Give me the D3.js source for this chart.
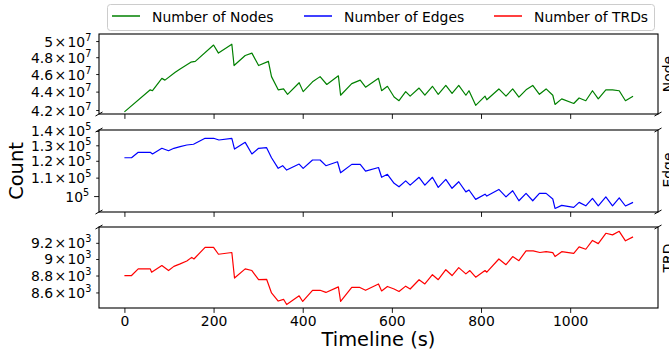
<!DOCTYPE html>
<html><head><meta charset="utf-8">
<script src="https://cdn.jsdelivr.net/npm/d3@7"></script>
<style>body{margin:0;background:#fff}svg{display:block;font-family:"DejaVu Sans",sans-serif}</style>
</head><body><svg id="c" width="669" height="350"></svg>
<script>
// ---------------- data ----------------
const nodesTime = [0,58,63,84,91,114,125,149,159,200,211,241,246,271,286,301,323,330,345,357,366,392,401,422,439,454,480,485,510,529,541,570,577,590,605,616,631,641,661,674,691,704,721,735,750,766,773,788,809,813,840,856,871,885,901,916,931,946,961,966,981,1008,1020,1035,1050,1063,1080,1095,1110,1124,1141];
const nodesCount = [4.18e7,4.42e7,4.41e7,4.55e7,4.53e7,4.62e7,4.66e7,4.74e7,4.75e7,4.95e7,4.85e7,4.96e7,4.70e7,4.82e7,4.85e7,4.70e7,4.75e7,4.57e7,4.42e7,4.43e7,4.37e7,4.50e7,4.40e7,4.51e7,4.57e7,4.48e7,4.58e7,4.36e7,4.49e7,4.53e7,4.45e7,4.55e7,4.41e7,4.46e7,4.34e7,4.30e7,4.40e7,4.35e7,4.44e7,4.36e7,4.46e7,4.37e7,4.47e7,4.38e7,4.47e7,4.36e7,4.41e7,4.25e7,4.35e7,4.31e7,4.43e7,4.35e7,4.43e7,4.34e7,4.42e7,4.47e7,4.37e7,4.43e7,4.36e7,4.26e7,4.32e7,4.27e7,4.33e7,4.30e7,4.41e7,4.32e7,4.42e7,4.42e7,4.41e7,4.30e7,4.35e7];

const edgesTime = [0,16,31,58,63,84,99,111,125,140,155,181,200,212,241,247,271,286,301,319,330,345,355,364,392,401,422,439,452,478,485,510,529,541,570,577,590,605,616,631,641,661,674,691,704,721,735,750,766,773,788,809,813,840,856,871,885,901,916,931,946,961,966,981,1008,1020,1035,1050,1063,1080,1095,1110,1124,1141];
const edgesCount = [1.219e5,1.219e5,1.254e5,1.254e5,1.243e5,1.280e5,1.264e5,1.280e5,1.291e5,1.302e5,1.307e5,1.348e5,1.348e5,1.336e5,1.348e5,1.275e5,1.320e5,1.243e5,1.280e5,1.284e5,1.219e5,1.154e5,1.170e5,1.144e5,1.180e5,1.154e5,1.205e5,1.205e5,1.170e5,1.194e5,1.128e5,1.178e5,1.178e5,1.138e5,1.159e5,1.102e5,1.119e5,1.068e5,1.049e5,1.082e5,1.058e5,1.102e5,1.058e5,1.102e5,1.046e5,1.090e5,1.041e5,1.077e5,1.022e5,1.032e5,0.983e5,1.010e5,1.000e5,1.035e5,0.996e5,1.028e5,0.976e5,1.014e5,0.976e5,1.014e5,1.014e5,0.985e5,0.938e5,0.953e5,0.943e5,0.968e5,0.951e5,0.988e5,0.951e5,0.996e5,0.951e5,0.991e5,0.950e5,0.968e5];

const trdsTime = [0,16,31,58,61,84,99,111,125,140,151,156,181,200,211,241,247,271,286,301,319,330,345,357,364,392,400,422,439,452,480,485,510,527,541,570,577,590,605,616,631,641,661,674,691,704,721,735,750,766,775,788,809,813,840,856,871,885,901,917,932,946,961,966,981,1008,1020,1035,1050,1063,1080,1095,1110,1124,1141];
const trdsCount = [8800,8800,8880,8880,8840,8920,8860,8910,8940,8976,9020,9000,9144,9144,9058,9080,8770,8880,8860,8750,8755,8594,8500,8520,8460,8560,8495,8625,8625,8600,8665,8495,8660,8660,8625,8700,8617,8670,8640,8610,8674,8640,8750,8700,8810,8750,8870,8800,8895,8820,8860,8780,8860,8840,9000,8930,9030,8980,9100,9100,9080,9090,9078,9030,9090,9070,9150,9120,9230,9190,9320,9300,9345,9225,9275];

const xTicks = [0,200,400,600,800,1000];
const nodesTicks = [4.2e7,4.4e7,4.6e7,4.8e7,5e7];
const nodesTickMant = ["4.2","4.4","4.6","4.8","5"];
const edgesTicks = [1e5,1.1e5,1.2e5,1.3e5,1.4e5];
const edgesTickMant = ["","1.1","1.2","1.3","1.4"];
const trdsTicks = [8.6e3,8.8e3,9e3,9.2e3];
const trdsTickMant = ["8.6","8.8","9","9.2"];

const seriesNames = ["Number of Nodes","Number of Edges","Number of TRDs"];
const panelNames = ["Node","Edge","TRD"];

// ---------------- layout ----------------
const xLimits = [-57, 1197];
const nodesLimits = [4.158e7, 5.09e7];
const edgesLimits = [0.921e5, 1.407e5];
const trdsLimits = [8420, 9400];

const L = 99, R = 658;
const FS = 13.9;
const svg = d3.select("#c");
svg.append("rect").attr("width",669).attr("height",350).attr("fill","#fff");

const x = d3.scaleLinear().domain(xLimits).range([L, R]);

const panels = [
  {top:34, bottom:114, time:nodesTime, vals:nodesCount, ticks:nodesTicks, mant:nodesTickMant, exp:"7", lim:nodesLimits, color:"#008000", name:panelNames[0], labelY:74},
  {top:130, bottom:212, time:edgesTime, vals:edgesCount, ticks:edgesTicks, mant:edgesTickMant, exp:"5", lim:edgesLimits, color:"#0000ff", name:panelNames[1], labelY:170},
  {top:227, bottom:308, time:trdsTime, vals:trdsCount, ticks:trdsTicks, mant:trdsTickMant, exp:"3", lim:trdsLimits, color:"#ff0000", name:panelNames[2], labelY:258}
];

panels.forEach((p, i) => {
  const y = d3.scaleLog().domain(p.lim).range([p.bottom, p.top]);
  const g = svg.append("g");
  const pts = p.time.map((t, k) => [t, p.vals[k]]);
  g.append("path").datum(pts)
    .attr("fill","none").attr("stroke",p.color).attr("stroke-width",1.2)
    .attr("stroke-linejoin","round")
    .attr("d", d3.line().x(d => x(d[0])).y(d => y(d[1])));
  const ya = g.append("g").attr("transform",`translate(${L},0)`)
    .call(d3.axisLeft(y).tickValues(p.ticks).tickSizeOuter(0)
      .tickSize(2.8).tickFormat(""));
  ya.select(".domain").remove();
  const isMajor = d => Math.abs(Math.log10(d) - Math.round(Math.log10(d))) < 1e-9;
  ya.selectAll(".tick line").attr("stroke","#000").attr("stroke-width",0.9)
    .attr("x2", d => isMajor(d) ? -4.9 : -2.8);
  ya.selectAll(".tick").each(function(d, k) {
    const major = isMajor(d);
    const t = d3.select(this).append("text")
      .attr("x", major ? -9.8 : -7.7).attr("y", 5)
      .attr("text-anchor","end").attr("fill","#000")
      .attr("font-size", FS).attr("font-family","DejaVu Sans");
    const m = p.mant[k];
    t.append("tspan").text(m ? m + "\u200a\u00d7\u200a10" : "10");
    t.append("tspan").attr("dy",-6).attr("font-size",9.7).text(p.exp);
  });
  const xa = g.append("g").attr("transform",`translate(0,${p.bottom})`)
    .call(d3.axisBottom(x).tickValues(xTicks).tickSizeOuter(0).tickSize(4.9)
      .tickFormat(i === 2 ? d3.format("d") : ""));
  xa.select(".domain").remove();
  xa.selectAll(".tick line").attr("stroke","#000").attr("stroke-width",0.9);
  xa.selectAll(".tick text").attr("font-size",FS).attr("font-family","DejaVu Sans")
    .attr("fill","#000").attr("dy",null).attr("y",18);
  g.append("rect").attr("x",L).attr("y",p.top).attr("width",R-L).attr("height",p.bottom-p.top)
    .attr("fill","none").attr("stroke","#000").attr("stroke-width",1.1);
  const marks = [];
  if (i < 2) marks.push([L,p.bottom],[R,p.bottom]);
  if (i > 0) marks.push([L,p.top],[R,p.top]);
  marks.forEach(([mx,my]) => g.append("line")
    .attr("x1",mx-3.5).attr("y1",my+2).attr("x2",mx+3.5).attr("y2",my-2)
    .attr("stroke","#000").attr("stroke-width",1));
  svg.append("text").attr("transform",`translate(673.4,${p.labelY}) rotate(-90)`)
    .attr("text-anchor","middle").attr("font-size",FS).text(p.name);
});

svg.append("text").attr("x",378.5).attr("y",345.5).attr("text-anchor","middle")
  .attr("font-size",19.4).text("Timeline (s)");
svg.append("text").attr("transform","translate(23,171) rotate(-90)")
  .attr("text-anchor","middle").attr("font-size",19.4).text("Count");

const lg = svg.append("g");
lg.append("rect").attr("x",107.5).attr("y",4.5).attr("width",547).attr("height",26)
  .attr("rx",3).attr("fill","#fff").attr("fill-opacity",0.8).attr("stroke","#ccc").attr("stroke-width",1);
const legX = [112, 304, 494];
const legColors = ["#008000","#0000ff","#ff0000"];
seriesNames.forEach((n, k) => {
  lg.append("line").attr("x1",legX[k]).attr("x2",legX[k]+28).attr("y1",16).attr("y2",16)
    .attr("stroke",legColors[k]).attr("stroke-width",1.5);
  lg.append("text").attr("x",legX[k]+40).attr("y",21.5).attr("font-size",FS).text(n);
});
</script></body></html>
